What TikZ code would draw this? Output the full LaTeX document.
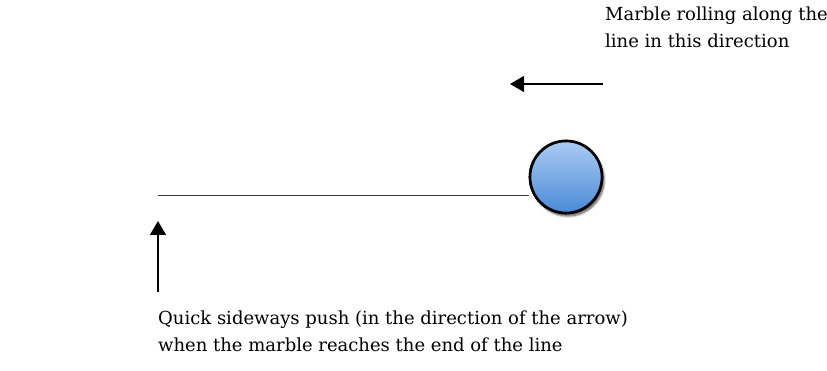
\documentclass[tikz,border=0pt]{standalone}
\usepackage{fontspec}
\setmainfont{DejaVu Serif}
\usepackage{tikz}
\usetikzlibrary{arrows.meta,positioning,shadows.blur}

\definecolor{marbletop}{HTML}{ABCBF3}
\definecolor{marblebottom}{HTML}{4A8AD6}

\begin{document}
\begin{tikzpicture}[x=1pt,y=1pt,font=\fontsize{18}{27}\selectfont,
  marble/.style={circle,minimum size=72pt,line width=2.6pt,draw=black,
    top color=marbletop,bottom color=marblebottom,
    blur shadow={shadow blur steps=8,shadow xshift=2pt,shadow yshift=-3pt}},
  pusharrow/.style={line width=1.2pt,-{Triangle[length=14pt,width=16pt]}},
  note/.style={align=left,anchor=north west,inner sep=0pt}]
  \useasboundingbox (0,0) rectangle (827,371);
  % track and marble
  \coordinate (trackstart) at (158,176);
  \node[marble] (ball) at (566,194) {};
  \draw[line width=0.8pt,black!75] (trackstart) -- (ball.west |- trackstart);
  \node[marble] at (ball) {};
  % rolling direction
  \coordinate (rollfrom) at (603,287);
  \coordinate (rollto) at (510,287);
  \draw[pusharrow] (rollfrom) -- (rollto);
  \node[note] (rolltext) at (605,364) {Marble rolling along the\\line in this direction};
  % sideways push
  \coordinate (pushfrom) at (158,79);
  \coordinate (pushto) at (158,150);
  \draw[pusharrow] (pushfrom) -- (pushto);
  \node[note] (pushtext) at (158,60) {Quick sideways push (in the direction of the arrow)\\when the marble reaches the end of the line};
\end{tikzpicture}
\end{document}
